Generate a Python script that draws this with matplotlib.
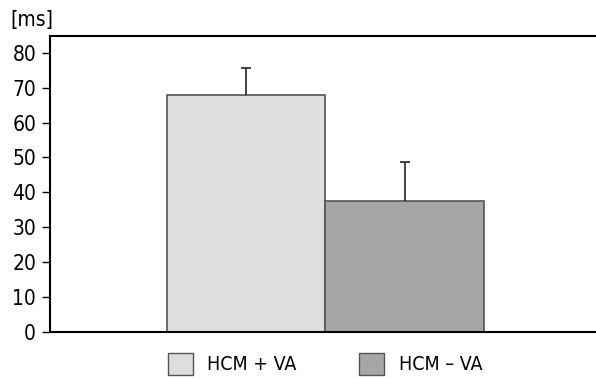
import matplotlib
matplotlib.use('Agg')
from matplotlib import pyplot as plt
from matplotlib.patches import Patch

plt.rcParams['font.family'] = ['DejaVu Sans']
plt.rcParams['font.stretch'] = 'condensed'

# data
groups = ['HCM + VA', 'HCM \u2013 VA']
means = [68, 37.6]
sd = [7.5, 11.2]
colors = ['#DEDEDE', '#A6A6A6']

fig = plt.figure(figsize=(5.96, 3.79), dpi=100)
ax = fig.add_axes([50 / 596, 1 - 332 / 379, 546 / 596, 296 / 379])

x = range(len(groups))
ax.bar(x, means, width=1.0, color=colors, edgecolor='#555555', linewidth=1.2)
# only upper error bars
eb = ax.errorbar(x, means, yerr=[[0] * len(sd), sd], fmt='none', ecolor='#222222',
                 elinewidth=1.2, capsize=3.6, capthick=1.2)
eb[1][0].set_visible(False)

ax.set_xlim(-1.237, 2.208)
ax.set_ylim(0, 84.8)
ax.set_yticks(range(0, 81, 10))
ax.set_xticks([])
ax.spines['right'].set_visible(False)
for s in ['left', 'top', 'bottom']:
    ax.spines[s].set_linewidth(1.5)
    ax.spines[s].set_color('black')
ax.tick_params(axis='y', labelsize=15, length=6, width=1, direction='out', pad=4)

fig.text(10 / 596, 1 - 20 / 379, '[ms]', fontsize=15, va='center', ha='left')

handles = [Patch(facecolor=c, edgecolor='#555555', linewidth=1) for c in colors]
fig.legend(handles, groups, loc='center', bbox_to_anchor=(325 / 596, 1 - 364 / 379),
           ncol=2, frameon=False, fontsize=14, handlelength=1.3, handleheight=1.35,
           columnspacing=3.2, handletextpad=0.75)

plt.savefig('out.png', dpi=100)
plt.close('all')
